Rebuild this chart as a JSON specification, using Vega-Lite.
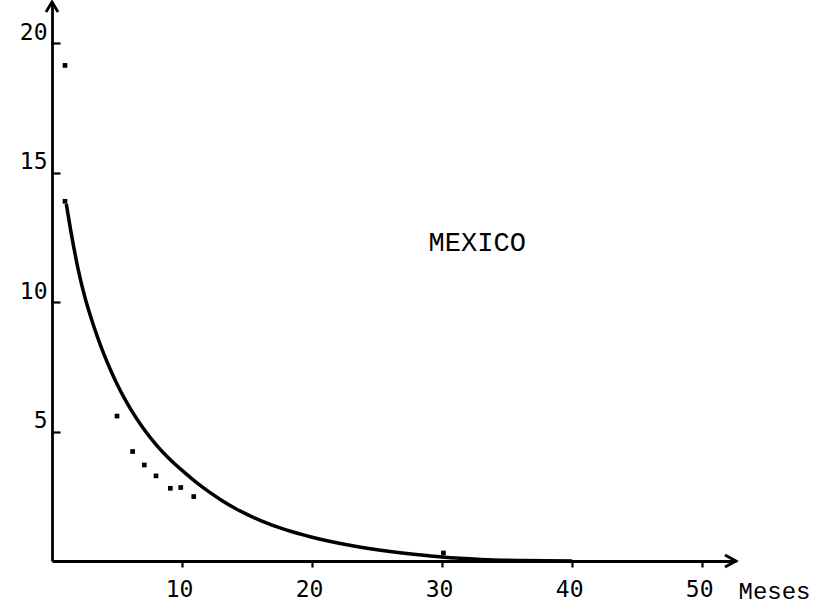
{
  "$schema": "https://vega.github.io/schema/vega-lite/v6.json",
  "width": 684,
  "height": 559,
  "autosize": {"type": "none"},
  "padding": {"left": 52, "top": 2, "right": 88, "bottom": 50},
  "background": "white",
  "config": {"view": {"stroke": null}},
  "datasets": {
    "obs": [
      {"mes": 1, "valor": 19.15},
      {"mes": 1, "valor": 13.9},
      {"mes": 5, "valor": 5.6},
      {"mes": 6.2, "valor": 4.23},
      {"mes": 7.1, "valor": 3.71},
      {"mes": 8, "valor": 3.29},
      {"mes": 9.1, "valor": 2.81},
      {"mes": 9.9, "valor": 2.84},
      {"mes": 10.9, "valor": 2.49},
      {"mes": 30.1, "valor": 0.31}
    ],
    "ajuste": [
      {"mes": 1.1, "valor": 13.8},
      {"mes": 1.5, "valor": 12.6},
      {"mes": 2, "valor": 11.3},
      {"mes": 2.5, "valor": 10.25},
      {"mes": 3, "valor": 9.4},
      {"mes": 3.5, "valor": 8.65},
      {"mes": 4, "valor": 7.98},
      {"mes": 4.5, "valor": 7.38},
      {"mes": 5, "valor": 6.84},
      {"mes": 5.5, "valor": 6.35},
      {"mes": 6, "valor": 5.91},
      {"mes": 7, "valor": 5.14},
      {"mes": 8, "valor": 4.5},
      {"mes": 9, "valor": 3.96},
      {"mes": 10, "valor": 3.5},
      {"mes": 11, "valor": 3.08},
      {"mes": 12, "valor": 2.7},
      {"mes": 13, "valor": 2.36},
      {"mes": 14, "valor": 2.06},
      {"mes": 15, "valor": 1.8},
      {"mes": 16, "valor": 1.57},
      {"mes": 18, "valor": 1.2},
      {"mes": 20, "valor": 0.92},
      {"mes": 23, "valor": 0.6},
      {"mes": 26, "valor": 0.37},
      {"mes": 28, "valor": 0.25},
      {"mes": 30, "valor": 0.15},
      {"mes": 33, "valor": 0.06},
      {"mes": 36, "valor": 0.02},
      {"mes": 40, "valor": 0.0}
    ],
    "flechas": [
      {"mes": 52.6, "valor": 0, "dir": "x"},
      {"mes": 0, "valor": 21.6, "dir": "y"}
    ],
    "etiqueta": [
      {"mes": 32.7, "valor": 12.3, "texto": "MEXICO"}
    ]
  },
  "layer": [
    {
      "data": {"name": "ajuste"},
      "mark": {"type": "line", "color": "black", "strokeWidth": 3.5, "interpolate": "monotone"},
      "encoding": {
        "x": {
          "field": "mes", "type": "quantitative",
          "scale": {"domain": [0, 52.6], "nice": false},
          "axis": {
            "values": [10, 20, 30, 40, 50],
            "grid": false,
            "domainColor": "black", "domainWidth": 2.8,
            "tickColor": "black", "tickWidth": 2.2, "tickSize": 6,
            "labelFont": "DejaVu Sans Mono", "labelFontSize": 23, "labelColor": "black",
            "labelPadding": 11, "labelOffset": -3,
            "title": "Meses",
            "titleFont": "Liberation Mono", "titleFontSize": 24, "titleFontWeight": "normal", "titleColor": "black",
            "titleAlign": "left", "titleBaseline": "middle", "titleAnchor": "start",
            "titleX": 686, "titleY": 30
          }
        },
        "y": {
          "field": "valor", "type": "quantitative",
          "scale": {"domain": [0, 21.6], "nice": false},
          "axis": {
            "values": [5, 10, 15, 20],
            "grid": false,
            "domainColor": "black", "domainWidth": 2.8,
            "tickColor": "black", "tickWidth": 2.2, "tickSize": -8,
            "labelFont": "DejaVu Sans Mono", "labelFontSize": 23, "labelColor": "black",
            "labelPadding": 13, "labelOffset": -11,
            "title": null
          }
        }
      }
    },
    {
      "data": {"name": "obs"},
      "mark": {"type": "point", "shape": "square", "filled": true, "color": "black", "size": 22, "opacity": 1},
      "encoding": {
        "x": {"field": "mes", "type": "quantitative"},
        "y": {"field": "valor", "type": "quantitative"}
      }
    },
    {
      "data": {"name": "flechas"},
      "transform": [{"filter": "datum.dir == 'x'"}],
      "mark": {"type": "point", "shape": "M-1,-0.55L0,0L-1,0.55", "filled": false, "color": "black", "strokeWidth": 2.8, "size": 484, "opacity": 1},
      "encoding": {
        "x": {"field": "mes", "type": "quantitative"},
        "y": {"field": "valor", "type": "quantitative"}
      }
    },
    {
      "data": {"name": "flechas"},
      "transform": [{"filter": "datum.dir == 'y'"}],
      "mark": {"type": "point", "shape": "M-0.6,1L0,0L0.6,1", "filled": false, "color": "black", "strokeWidth": 2.8, "size": 400, "opacity": 1},
      "encoding": {
        "x": {"field": "mes", "type": "quantitative"},
        "y": {"field": "valor", "type": "quantitative"}
      }
    },
    {
      "data": {"name": "etiqueta"},
      "mark": {"type": "text", "font": "Liberation Mono", "fontSize": 27, "color": "black", "align": "center", "baseline": "middle"},
      "encoding": {
        "x": {"field": "mes", "type": "quantitative"},
        "y": {"field": "valor", "type": "quantitative"},
        "text": {"field": "texto"}
      }
    }
  ]
}
